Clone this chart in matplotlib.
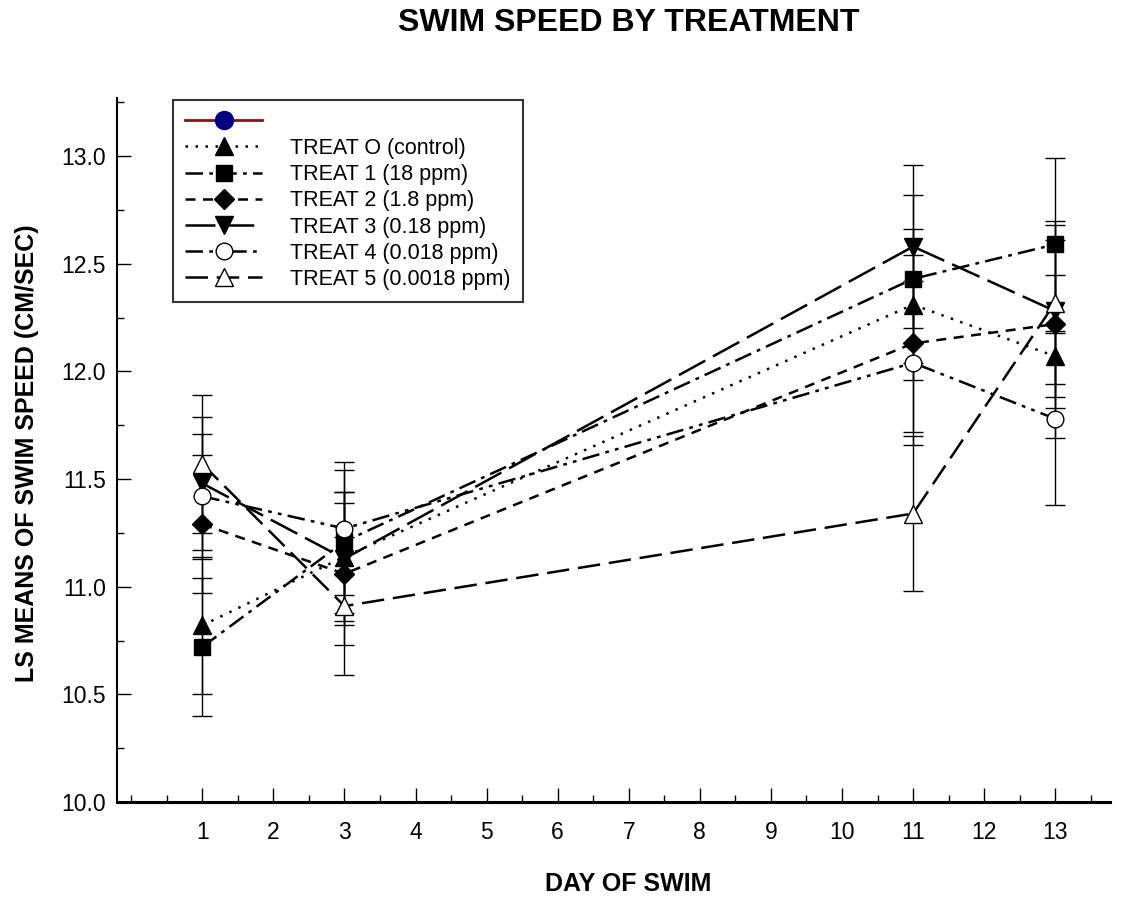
import matplotlib
matplotlib.use("Agg")
import matplotlib.pyplot as plt
from matplotlib.lines import Line2D
from matplotlib.ticker import MultipleLocator, FormatStrFormatter

days = [1, 3, 11, 13]
labels = ["TREAT O (control)", "TREAT 1 (18 ppm)", "TREAT 2 (1.8 ppm)",
          "TREAT 3 (0.18 ppm)", "TREAT 4 (0.018 ppm)", "TREAT 5 (0.0018 ppm)"]

treat0 = [10.82, 11.14, 12.31, 12.07]
treat1 = [10.72, 11.21, 12.43, 12.59]
treat2 = [11.29, 11.06, 12.13, 12.22]
treat3 = [11.48, 11.13, 12.58, 12.28]
treat4 = [11.42, 11.27, 12.04, 11.78]
treat5 = [11.57, 10.91, 11.34, 12.32]

se0 = [0.32, 0.30, 0.35, 0.38]
se1 = [0.32, 0.33, 0.39, 0.40]
se2 = [0.32, 0.33, 0.41, 0.39]
se3 = [0.31, 0.31, 0.38, 0.40]
se4 = [0.29, 0.31, 0.38, 0.40]
se5 = [0.32, 0.32, 0.36, 0.38]

means = [treat0, treat1, treat2, treat3, treat4, treat5]
ses = [se0, se1, se2, se3, se4, se5]

styles = [
    dict(ls=(0, (1, 3)), marker="^", mfc="black", ms=13),
    dict(ls=(0, (7, 2.5, 1.5, 2.5)), marker="s", mfc="black", ms=12),
    dict(ls=(0, (4, 3)), marker="D", mfc="black", ms=10),
    dict(ls=(0, (12, 3.5)), marker="v", mfc="black", ms=13),
    dict(ls=(0, (7, 2.5, 1.5, 2.5, 1.5, 2.5)), marker="o", mfc="white", ms=12),
    dict(ls=(0, (9, 3.5)), marker="^", mfc="white", ms=13),
]

plt.rcParams['font.family'] = ['Liberation Sans', 'DejaVu Sans']
fig = plt.figure(figsize=(11.37, 9.01), dpi=100)
ax = fig.add_axes([117/1137, 99/901, (1110-117)/1137, (802-98)/901])

for m, s in zip(means, ses):
    ax.errorbar(days, m, yerr=s, fmt="none", ecolor="black", elinewidth=1,
                capsize=7, capthick=1, zorder=2)

for m, st in zip(means, styles):
    ax.plot(days, m, color="black", lw=1.8, linestyle=st["ls"], marker=st["marker"],
            mfc=st["mfc"], mec="black", mew=1, ms=st["ms"], zorder=3)

ax.set_xlim(-0.2, 13.77)
ax.set_ylim(10.0, 13.27)
ax.xaxis.set_minor_locator(MultipleLocator(0.5))
ax.set_xticks(list(range(1, 14)))
ax.yaxis.set_major_locator(MultipleLocator(0.5))
ax.yaxis.set_minor_locator(MultipleLocator(0.25))
ax.yaxis.set_major_formatter(FormatStrFormatter("%.1f"))
ax.tick_params(axis="both", which="major", direction="in", length=10, width=1,
               labelsize=16.5, pad=8)
ax.tick_params(axis="both", which="minor", direction="in", length=5, width=1)
ax.tick_params(axis="x", which="major", pad=14)
for sp in ["top", "right"]:
    ax.spines[sp].set_visible(False)
ax.spines["bottom"].set_linewidth(2.2)
ax.spines["left"].set_linewidth(1.5)

fig.text(629/1137, 1 - 23/901, "SWIM SPEED BY TREATMENT", ha="center", va="center",
         fontsize=23, fontweight="bold")
fig.text(628/1137, 1 - 884/901, "DAY OF SWIM", ha="center", va="center",
         fontsize=18, fontweight="bold")
fig.text(27/1137, 1 - 453/901, "LS MEANS OF SWIM SPEED (CM/SEC)", ha="center",
         va="center", rotation=90, fontsize=18, fontweight="bold")

handles = [Line2D([], [], color="#8B1010", lw=2, marker="o", mfc="#000080",
                  mec="#000080", ms=13)]
for st in styles:
    handles.append(Line2D([], [], color="black", lw=1.8, linestyle=st["ls"],
                          marker=st["marker"], mfc=st["mfc"], mec="black",
                          ms=st["ms"]))
leg = ax.legend(handles, [""] + labels, loc="upper left",
                bbox_to_anchor=(173/1137, 1 - 100/901), bbox_transform=fig.transFigure,
                fontsize=15.5, handlelength=3.6, handletextpad=1.3, labelspacing=0.24,
                borderpad=0.55, borderaxespad=0, frameon=True, fancybox=False)
leg.get_frame().set_edgecolor("black")
leg.get_frame().set_linewidth(1.5)

fig.savefig("out.png", dpi=100)
